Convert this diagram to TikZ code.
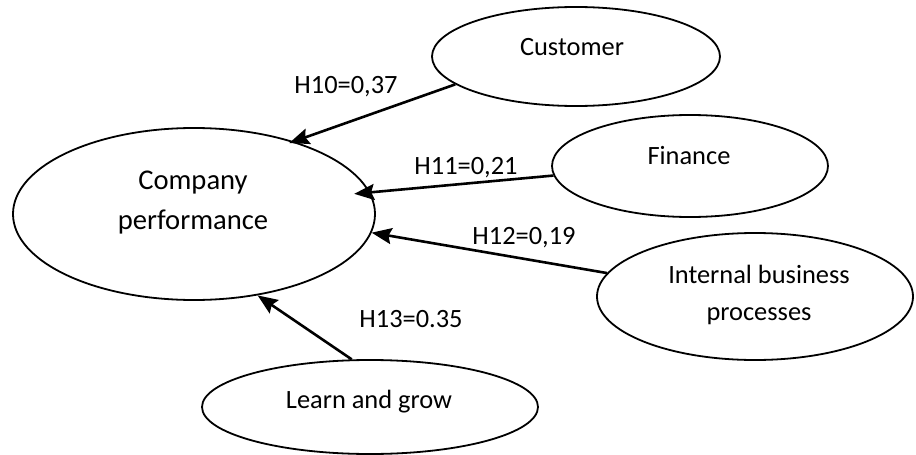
\documentclass[tikz,border=0pt]{standalone}
\usepackage{fontspec}
\setmainfont{Carlito}
\usetikzlibrary{shapes.geometric,arrows.meta}
\tikzset{
  oval/.style={ellipse, draw=black, line width=1.8pt, inner sep=0pt},
  txt/.style={align=center, inner sep=0pt, font=\fontsize{26.4}{37}\selectfont},
  bigtxt/.style={align=center, inner sep=0pt, font=\fontsize{28.6}{40}\selectfont},
  lbl/.style={inner sep=0pt, font=\fontsize{26.4}{38}\selectfont},
  arr/.style={line width=2.6pt, -{Stealth[length=20pt,width=16pt,inset=3pt]}}
}
\begin{document}
\begin{tikzpicture}[x=1pt,y=-1pt]
\useasboundingbox (0,0) rectangle (916,455);
\node[oval, minimum width=362pt, minimum height=172pt] (comp) at (194,214) {};
\node[oval, minimum width=288pt, minimum height=99pt] (cust) at (576,56.5) {};
\node[oval, minimum width=276pt, minimum height=102pt] (fin) at (690,166) {};
\node[oval, minimum width=316pt, minimum height=127pt] (ibp) at (755,296.5) {};
\node[oval, minimum width=336pt, minimum height=94pt] (lg) at (370,407) {};
\node[bigtxt] (compt) at (193,203) {Company\\performance};
\node[txt] (custt) at (572,47) {Customer};
\node[txt] (fint) at (689,156) {Finance};
\node[txt] (ibpt) at (759,294.5) {Internal business\\processes};
\node[txt] (lgt) at (369,402) {Learn and grow};
\draw[arr, shorten >=-5pt] (cust.193.3) -- (comp.36.6);
\draw[arr, shorten >=-16pt] (fin.184.6) -- (comp.7.2);
\draw[arr] (ibp.171.8) -- (comp.-6.9);
\draw[arr] (lg.111) -- (comp.-52.5);
\node[lbl] (l10) at (346,87) {H10=0,37};
\node[lbl] (l11) at (466,168) {H11=0,21};
\node[lbl] (l12) at (524,238) {H12=0,19};
\node[lbl] (l13) at (411,319) {H13=0.35};
\end{tikzpicture}
\end{document}
